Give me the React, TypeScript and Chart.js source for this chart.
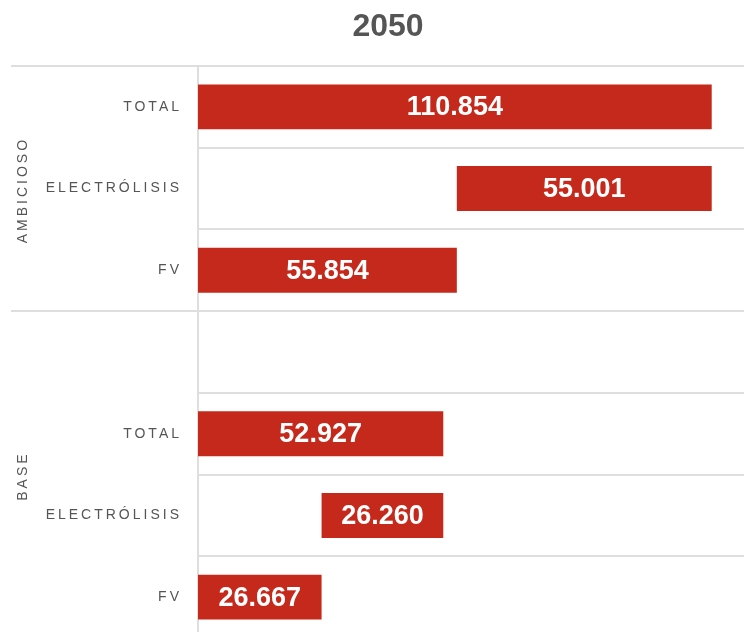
import React, { useEffect, useRef } from 'react';
import { Chart, registerables } from 'chart.js';

Chart.register(...registerables);

const FONT = '"Liberation Sans", Arial, Helvetica, sans-serif';
const GRID = '#dedede';
const TEXT = '#555555';
const BAR = '#c5291b';

const titleText = '2050';
const categories = ['TOTAL', 'ELECTRÓLISIS', 'FV', '', 'TOTAL', 'ELECTRÓLISIS', 'FV'];
const barStart: (number | null)[] = [0, 55.854, 0, null, 0, 26.667, 0];
const barValue: (number | null)[] = [110.854, 55.001, 55.854, null, 52.927, 26.26, 26.667];
const groupNames = ['AMBICIOSO', 'BASE'];
const groupSizes = [3, 4];
const xMax = 123;

function alignPx(p: number, w: number) {
  const h = w / 2;
  return Math.round(p - h) + h;
}

export default function App() {
  const ref = useRef<HTMLCanvasElement>(null);

  useEffect(() => {
    document.documentElement.style.overflow = 'hidden';
    const canvas = ref.current!;

    const decor = {
      id: 'decor',
      afterDatasetsDraw(chart: any) {
        const ctx = chart.ctx as any;
        const meta = chart.getDatasetMeta(0);
        ctx.save();
        ctx.letterSpacing = '0px';
        ctx.fillStyle = '#ffffff';
        ctx.font = `bold 27px ${FONT}`;
        ctx.textAlign = 'center';
        ctx.textBaseline = 'middle';
        meta.data.forEach((bar: any, i: number) => {
          const v = barValue[i];
          if (v == null) return;
          const { x, base, y } = bar.getProps(['x', 'base', 'y'], true);
          ctx.fillText(v.toFixed(3), (x + base) / 2, y + 1);
        });
        ctx.restore();
        ctx.letterSpacing = '3px';
      },
      afterDraw(chart: any) {
        const ctx = chart.ctx as any;
        const ys = chart.scales.y;
        const area = chart.chartArea;
        ctx.save();
        ctx.letterSpacing = '0px';
        ctx.strokeStyle = GRID;
        ctx.lineWidth = 2;
        const bounds: number[] = [-0.5];
        let idx = 0;
        groupSizes.forEach((n) => {
          idx += n;
          bounds.push(idx - 0.5);
        });
        ctx.beginPath();
        bounds.forEach((b) => {
          const y = alignPx(ys.getPixelForValue(b), 2);
          ctx.moveTo(3, y);
          ctx.lineTo(area.left, y);
        });
        ctx.stroke();

        ctx.letterSpacing = '3px';
        ctx.fillStyle = TEXT;
        ctx.font = `14px ${FONT}`;
        ctx.textAlign = 'center';
        ctx.textBaseline = 'middle';
        let start = 0;
        groupNames.forEach((name, g) => {
          const end = start + groupSizes[g] - 1;
          const cy = (ys.getPixelForValue(start) + ys.getPixelForValue(end)) / 2;
          ctx.save();
          ctx.translate(15, cy);
          ctx.rotate(-Math.PI / 2);
          ctx.fillText(name, -1.5, 0);
          ctx.restore();
          start = end + 1;
        });
        ctx.restore();
        ctx.letterSpacing = '0px';
      },
    };

    const data = categories.map((_, i) => {
      const s = barStart[i];
      const v = barValue[i];
      return s == null || v == null ? null : [s, s + v];
    });

    const chart = new Chart(canvas, {
      type: 'bar',
      data: {
        labels: categories,
        datasets: [
          {
            data: data as any,
            backgroundColor: BAR,
            borderWidth: 0,
            barPercentage: 0.55,
            categoryPercentage: 1,
          },
        ],
      },
      options: {
        indexAxis: 'y',
        responsive: false,
        animation: false,
        layout: { padding: { left: 0, right: 0, top: 0, bottom: 10 } },
        plugins: {
          legend: { display: false },
          tooltip: { enabled: false },
          title: {
            display: true,
            text: titleText,
            color: TEXT,
            font: { size: 32, weight: 'bold', family: FONT, lineHeight: 1 },
            padding: { top: 3, bottom: 23 },
          },
        },
        scales: {
          x: { type: 'linear', min: 0, max: xMax, display: false },
          y: {
            type: 'category',
            position: 'left',
            offset: true,
            grid: {
              offset: true,
              color: GRID,
              lineWidth: 2,
              drawTicks: true,
              tickLength: 16,
              tickColor: 'rgba(0,0,0,0)',
            },
            border: { display: true, color: GRID, width: 2 },
            ticks: {
              z: 1,
              color: TEXT,
              font: { size: 14, family: FONT },
              padding: 0,
              autoSkip: false,
            },
            afterFit: (s: any) => {
              s.width = 190;
            },
          },
        },
      },
      plugins: [decor],
    } as any);

    return () => {
      chart.destroy();
    };
  }, []);

  return (
    <div style={{ position: 'fixed', left: 8, top: 8, width: 760, height: 640 }}>
      <canvas ref={ref} width={760} height={640} style={{ display: 'block' }} />
    </div>
  );
}
